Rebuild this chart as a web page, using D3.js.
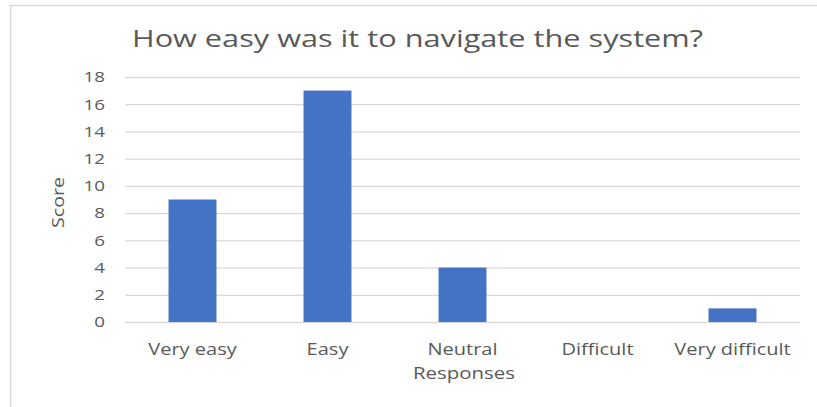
<!DOCTYPE html>
<html>
<head>
<meta charset="utf-8">
<script src="https://cdn.jsdelivr.net/npm/d3@7"></script>
<style>
  html, body { margin: 0; padding: 0; background: #fff; }
  svg { display: block; }
  text { font-family: "Open Sans", "Noto Sans", sans-serif; fill: #595959; }
</style>
</head>
<body>
<div id="chart"></div>
<script>
// Survey responses: ease of navigating the system
const categories = ["Very easy", "Easy", "Neutral", "Difficult", "Very difficult"];
const scores = [9, 17, 4, 0, 1];
const yTicks = [0, 2, 4, 6, 8, 10, 12, 14, 16, 18];
const chartTitle = "How easy was it to navigate the system?";
const xTitle = "Responses";
const yTitle = "Score";

const W = 817, H = 407;
const margin = { top: 77, right: 17, bottom: 85, left: 125 };

const svg = d3.select("#chart").append("svg")
  .attr("width", W).attr("height", H);

// chart frame
svg.append("rect")
  .attr("x", 10.5).attr("y", 5.5)
  .attr("width", W + 20).attr("height", H + 20)
  .attr("fill", "#fff").attr("stroke", "#d9d9d9").attr("stroke-width", 1.5);

// widen a text element horizontally about its anchor point
function stretch(sel, k) {
  sel.each(function () {
    const t = d3.select(this);
    const ax = +t.attr("x") || 0;
    const prev = t.attr("transform") || "";
    t.attr("transform", `${prev} translate(${ax},0) scale(${k},1) translate(${-ax},0)`);
  });
}

const x = d3.scaleBand()
  .domain(categories)
  .range([margin.left, W - margin.right])
  .paddingInner(0.645).paddingOuter(0.3225);

const y = d3.scaleLinear()
  .domain([0, 18])
  .range([H - margin.bottom, margin.top]);

// gridlines and y tick labels
const yAxis = d3.axisLeft(y).tickValues(yTicks)
  .tickSize(-(W - margin.right - margin.left)).tickPadding(20);
const gy = svg.append("g")
  .attr("transform", `translate(${margin.left},0)`)
  .call(yAxis);
gy.select(".domain").remove();
gy.selectAll(".tick line").attr("stroke", "#d9d9d9").attr("stroke-width", 1.3);
gy.selectAll(".tick text")
  .attr("font-size", 15).attr("fill", "#595959")
  .style("font-family", "'Open Sans', sans-serif")
  .call(stretch, 1.25);

// bars
svg.append("g").selectAll("rect")
  .data(categories.map((c, i) => ({ c, v: scores[i] })))
  .join("rect")
  .attr("x", d => x(d.c))
  .attr("width", x.bandwidth())
  .attr("y", d => y(d.v))
  .attr("height", d => y(0) - y(d.v))
  .attr("fill", "#4472c4");

// category axis
const xAxis = d3.axisBottom(x).tickSize(0).tickPadding(22);
const gx = svg.append("g")
  .attr("transform", `translate(0,${y(0)})`)
  .call(xAxis);
gx.select(".domain").remove();
gx.selectAll(".tick text")
  .attr("font-size", 16).attr("fill", "#595959")
  .style("font-family", "'Open Sans', sans-serif")
  .call(stretch, 1.25);

// titles
svg.append("text")
  .attr("x", 417.5).attr("y", 47)
  .attr("text-anchor", "middle")
  .attr("font-size", 23)
  .attr("textLength", 571)
  .attr("lengthAdjust", "spacingAndGlyphs")
  .text(chartTitle);

svg.append("text")
  .attr("x", 464).attr("y", 379)
  .attr("text-anchor", "middle")
  .attr("font-size", 17)
  .attr("textLength", 102)
  .attr("lengthAdjust", "spacingAndGlyphs")
  .text(xTitle);

svg.append("text")
  .attr("transform", `translate(64,${(y(0) + y(18)) / 2 + 3}) rotate(-90)`)
  .attr("text-anchor", "middle")
  .attr("font-size", 17)
  .attr("textLength", 51)
  .attr("lengthAdjust", "spacingAndGlyphs")
  .text(yTitle);
</script>
</body>
</html>
